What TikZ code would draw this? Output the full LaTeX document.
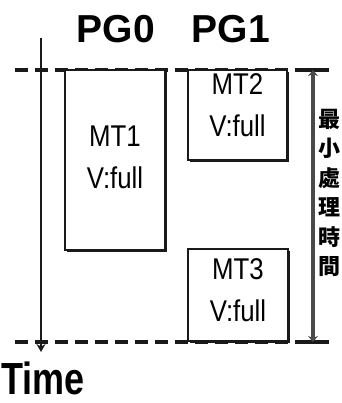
\documentclass[tikz,border=0pt]{standalone}
\usepackage{fontspec}
\setmainfont{Liberation Sans}
\newfontfamily\narrowfont[FakeStretch=0.86]{Liberation Sans}
\newfontfamily\timefont[FakeStretch=0.8]{Liberation Sans}
\newfontfamily\cjk{Noto Sans CJK TC}
\usetikzlibrary{arrows.meta,shadows}
\definecolor{ink}{HTML}{1A1A1A}
\definecolor{dimgray}{HTML}{4A4A4A}
\tikzset{
  taskbox/.style={draw=ink, fill=white, line width=1.6pt, rectangle, inner sep=0pt,
    align=center, font=\narrowfont\fontsize{30}{42}\selectfont,
    drop shadow={shadow xshift=1.6pt, shadow yshift=-1.8pt, fill=ink, opacity=1}},
  boundary/.style={draw=ink, line width=4pt, dash pattern=on 13pt off 7pt},
  pglabel/.style={font=\bfseries\fontsize{39}{39}\selectfont, inner sep=0pt},
  timeaxis/.style={draw=ink, line width=2.6pt, -{Stealth[length=8pt,width=9pt]}},
  dimline/.style={draw=dimgray, line width=3.5pt, {Stealth[length=6pt,width=10pt]}-{Stealth[length=6pt,width=10pt]}},
  dimbar/.style={draw=ink, line width=4pt},
}
\begin{document}
\begin{tikzpicture}[x=1pt,y=-1pt]
\useasboundingbox (0,0) rectangle (341,403);
\fill[white] (0,0) rectangle (341,403);
% boundaries
\coordinate (topL) at (15,70);
\coordinate (topR) at (333,70);
\coordinate (botL) at (15,342);
\coordinate (botR) at (333,342);
\draw[boundary] (topL) -- (topR);
\draw[boundary] (botL) -- (botR);
% group labels
\node[pglabel] (pg0) at (116,29) {PG0};
\node[pglabel] (pg1) at (231,29) {PG1};
% tasks
\node[taskbox, minimum width=100pt, minimum height=180pt, text depth=6pt] (mt1) at (115,160) {MT1\\V:full};
\node[taskbox, minimum width=99pt, minimum height=90pt, text depth=20pt] (mt2) at (237.5,115) {MT2\\V:full};
\node[taskbox, minimum width=100pt, minimum height=92pt, text depth=10pt] (mt3) at (238,295) {MT3\\V:full};
% time axis
\coordinate (tstart) at (41,38);
\coordinate (tend) at (41,352);
\draw[timeaxis] (tstart) -- (tend);
\node[font=\timefont\bfseries\fontsize{45}{45}\selectfont, anchor=base west, inner sep=0pt] (time) at (1,394) {Time};
% minimum processing time
\coordinate (dtop) at (313,70);
\coordinate (dbot) at (313,342);
\draw[dimbar] (298,70) -- (329,70);
\draw[dimbar] (298,342) -- (329,342);
\draw[dimline] (dtop) -- (dbot);
\node[font=\cjk\bfseries\fontsize{22}{29.5}\selectfont, align=center, inner sep=0pt] (mpt) at (329,193) {最\\小\\處\\理\\時\\間};
\end{tikzpicture}
\end{document}
